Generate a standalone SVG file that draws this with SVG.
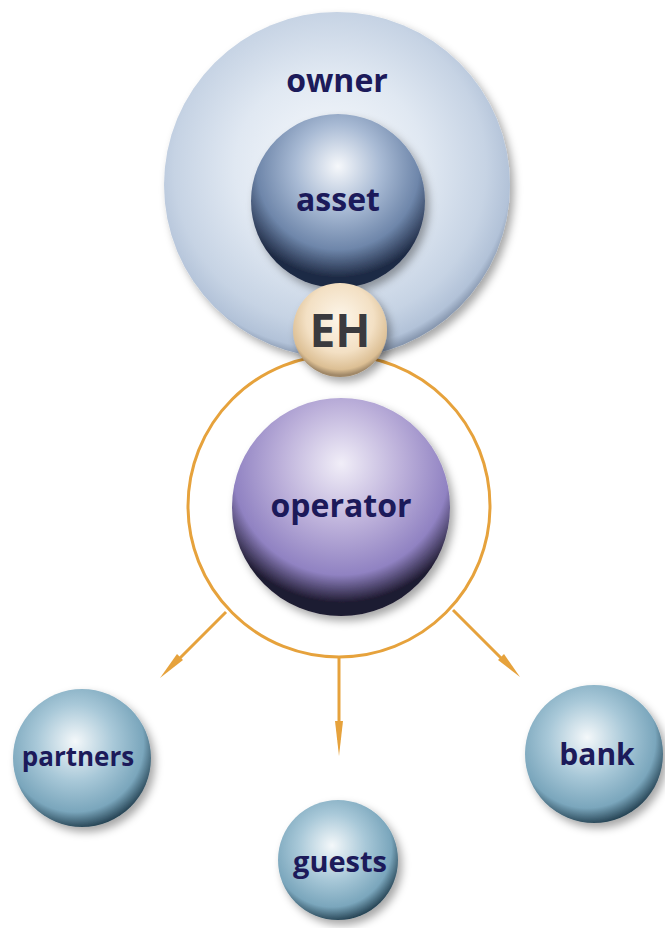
<svg xmlns="http://www.w3.org/2000/svg" width="665" height="928" viewBox="0 0 665 928">
<defs>
<style>
.lbl{font-family:"Open Sans","Noto Sans","Liberation Sans",sans-serif;font-weight:700;fill:#1c1a5a;text-anchor:middle}
.con{stroke:#e6a23c;stroke-width:3;fill:none}
.head{fill:#e6a23c}
</style>
<filter id="sh" x="-20%" y="-20%" width="150%" height="150%">
<feDropShadow dx="4" dy="5" stdDeviation="4" flood-color="#000" flood-opacity="0.35"/>
</filter>
<radialGradient id="gOwner" cx="0.48" cy="0.45" r="0.55">
<stop offset="0" stop-color="#f8fafd"/>
<stop offset="0.5" stop-color="#e0e8f2"/>
<stop offset="0.82" stop-color="#c6d3e4"/>
<stop offset="0.95" stop-color="#b2c2d8"/>
<stop offset="1" stop-color="#8898b0"/>
</radialGradient>
<radialGradient id="gAsset" cx="0.5" cy="0.32" r="0.62" fx="0.5" fy="0.3">
<stop offset="0" stop-color="#f6f8fb"/>
<stop offset="0.4" stop-color="#a8bad4"/>
<stop offset="0.75" stop-color="#6e86aa"/>
<stop offset="1" stop-color="#1e2a44"/>
</radialGradient>
<radialGradient id="gOp" cx="0.5" cy="0.32" r="0.62" fx="0.5" fy="0.3">
<stop offset="0" stop-color="#f1eef8"/>
<stop offset="0.45" stop-color="#bcb0da"/>
<stop offset="0.8" stop-color="#9082c2"/>
<stop offset="1" stop-color="#1e1a30"/>
</radialGradient>
<radialGradient id="gEH" cx="0.5" cy="0.38" r="0.6">
<stop offset="0" stop-color="#fdf6ea"/>
<stop offset="0.6" stop-color="#f3e0c4"/>
<stop offset="0.9" stop-color="#dcbf94"/>
<stop offset="1" stop-color="#a08868"/>
</radialGradient>
<radialGradient id="gTeal" cx="0.45" cy="0.4" r="0.62" fx="0.45" fy="0.38">
<stop offset="0" stop-color="#f4f8fa"/>
<stop offset="0.45" stop-color="#a8c8d8"/>
<stop offset="0.8" stop-color="#7aa6bc"/>
<stop offset="1" stop-color="#1e3a4a"/>
</radialGradient>
</defs>

<g id="connectors">
<circle class="con" cx="339" cy="506" r="151"/>
<line class="con" x1="226" y1="612" x2="172" y2="666"/>
<polygon class="head" points="177,654 183,660 160,678"/>
<line class="con" x1="339" y1="657" x2="339" y2="740"/>
<polygon class="head" points="335,721 343,721 339,756"/>
<line class="con" x1="453" y1="610" x2="508" y2="665"/>
<polygon class="head" points="498,660 504,654 520,677"/>
</g>

<g id="owner">
<circle cx="337" cy="185" r="173" fill="url(#gOwner)" filter="url(#sh)"/>
<text class="lbl" x="337" y="92" font-size="32">owner</text>
</g>

<g id="asset">
<circle cx="338" cy="201" r="87" fill="url(#gAsset)" filter="url(#sh)"/>
<text class="lbl" x="338" y="211" font-size="32">asset</text>
</g>

<g id="operator">
<circle cx="341" cy="507" r="109" fill="url(#gOp)" filter="url(#sh)"/>
<text class="lbl" x="341" y="517" font-size="32">operator</text>
</g>

<g id="eh">
<circle cx="340" cy="330" r="47" fill="url(#gEH)" filter="url(#sh)"/>
<text x="340" y="347" font-family="Open Sans, Noto Sans, Liberation Sans, sans-serif" font-weight="700" font-size="46" fill="#3a3a3e" text-anchor="middle">EH</text>
</g>

<g id="partners">
<circle cx="82" cy="758" r="69" fill="url(#gTeal)" filter="url(#sh)"/>
<text class="lbl" x="78" y="766" font-size="26">partners</text>
</g>

<g id="guests">
<circle cx="338" cy="860" r="60" fill="url(#gTeal)" filter="url(#sh)"/>
<text class="lbl" x="340" y="872" font-size="29">guests</text>
</g>

<g id="bank">
<circle cx="594" cy="754" r="69" fill="url(#gTeal)" filter="url(#sh)"/>
<text class="lbl" x="597" y="765" font-size="30">bank</text>
</g>
</svg>
